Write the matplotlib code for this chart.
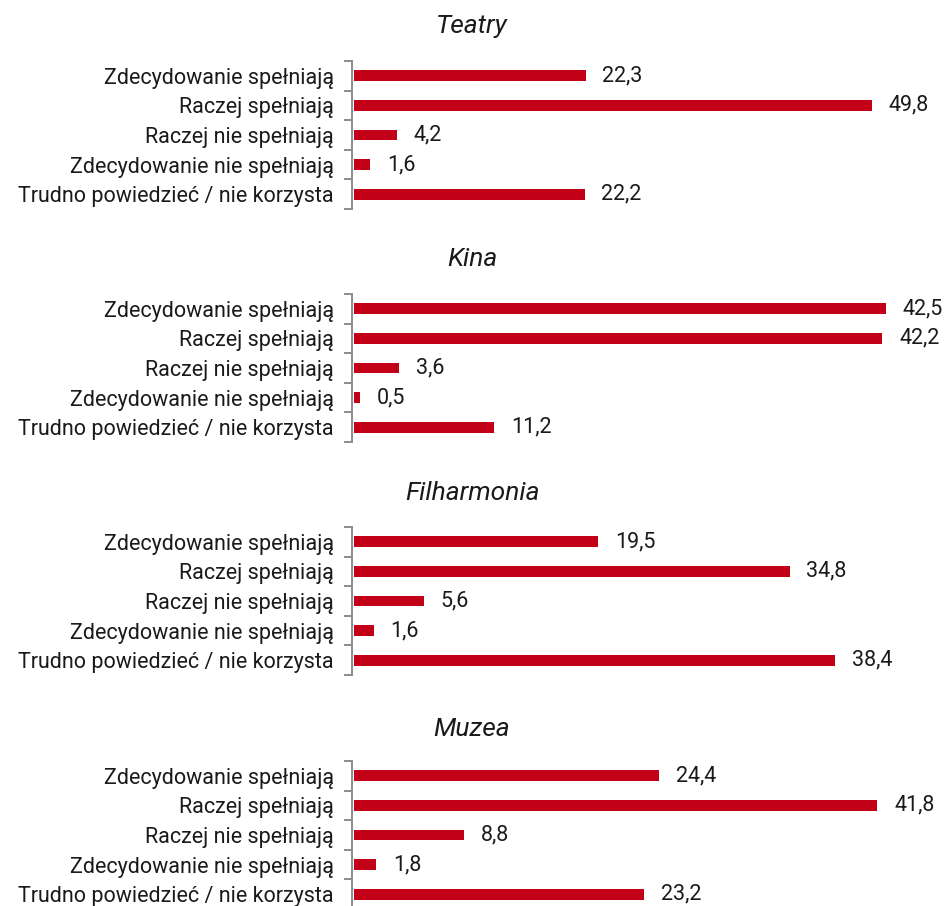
import matplotlib
matplotlib.use('Agg')
import matplotlib.pyplot as plt

plt.rcParams['font.family'] = ['Roboto', 'DejaVu Sans']

CATEGORIES = ['Zdecydowanie spełniają', 'Raczej spełniają', 'Raczej nie spełniają',
              'Zdecydowanie nie spełniają', 'Trudno powiedzieć / nie korzysta']
PANEL_TITLES = ['Teatry', 'Kina', 'Filharmonia', 'Muzea']
TEATRY = [22.3, 49.8, 4.2, 1.6, 22.2]
KINA = [42.5, 42.2, 3.6, 0.5, 11.2]
FILHARMONIA = [19.5, 34.8, 5.6, 1.6, 38.4]
MUZEA = [24.4, 41.8, 8.8, 1.8, 23.2]
XMAX = [55.4, 46.0, 46.0, 46.0]

BAR_COLOR = '#C20017'
TEXT_COLOR = '#1a1a1a'
W, H = 947, 906


def fmt(v):
    return '{:.1f}'.format(v).replace('.', ',')


def draw_panel(fig, top_px, title_px, title, values, xmax):
    left, right = 352, 930
    bottom_px = top_px + 148
    ax = fig.add_axes([left / W, 1 - bottom_px / H, (right - left) / W, (bottom_px - top_px) / H])
    y = range(len(values))
    ax.barh(y, values, height=0.36, color=BAR_COLOR, left=0)
    ax.set_xlim(-0.15, xmax)
    ax.set_ylim(len(values) - 0.5, -0.5)
    for yi, v in zip(y, values):
        ax.text(v + xmax * 0.029, yi, fmt(v), va='center', ha='left',
                fontsize=15.5, color=TEXT_COLOR)
    ax.set_yticks(list(y))
    ax.set_yticklabels(CATEGORIES, fontsize=15.5, color=TEXT_COLOR)
    ax.tick_params(axis='y', which='major', length=0, pad=13)
    ax.set_yticks([i - 0.5 for i in range(len(values) + 1)], minor=True)
    ax.tick_params(axis='y', which='minor', length=6, width=1.4, color='#8c8c8c', direction='out')
    ax.set_xticks([])
    for s in ['top', 'right', 'bottom']:
        ax.spines[s].set_visible(False)
    ax.spines['left'].set_color('#8c8c8c')
    ax.spines['left'].set_linewidth(1.4)
    fig.text(472 / W, 1 - title_px / H, title, ha='center', va='center',
             fontsize=19, style='italic', color=TEXT_COLOR)


fig = plt.figure(figsize=(W / 100, H / 100), dpi=100)
panels = [TEATRY, KINA, FILHARMONIA, MUZEA]
tops = [61, 294, 527, 761]
title_ys = [26, 259, 493, 729]
for top, ty, title, vals, xm in zip(tops, title_ys, PANEL_TITLES, panels, XMAX):
    draw_panel(fig, top, ty, title, vals, xm)

fig.savefig('out.png', dpi=100)
